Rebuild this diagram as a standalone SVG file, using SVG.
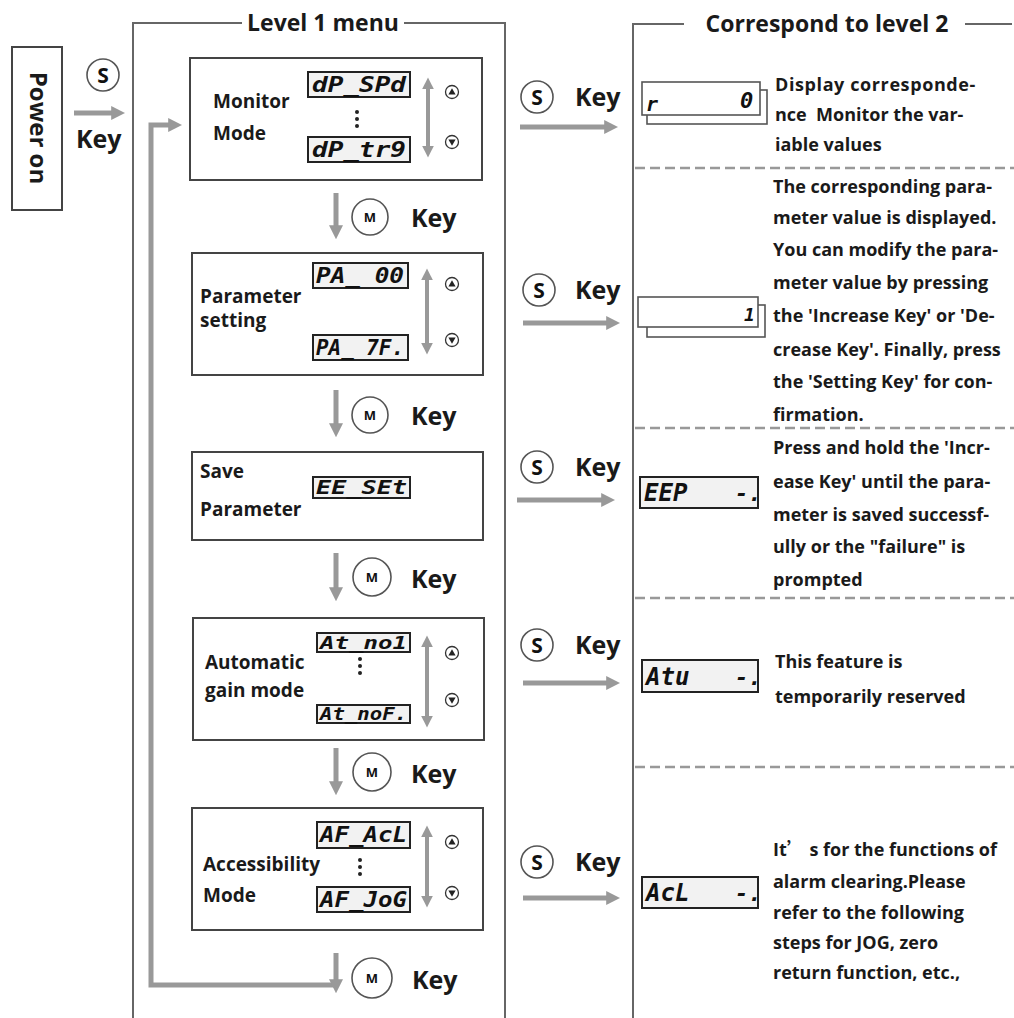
<svg xmlns="http://www.w3.org/2000/svg" width="1014" height="1018" viewBox="0 0 1014 1018">
<defs>
<style>
.t{font-family:"Open Sans","Noto Sans","Liberation Sans",sans-serif;font-weight:700;fill:#1a1a1a}
.lbl{font-size:19px}
.desc{font-size:18px;font-weight:700}
.key{font-size:25px}
.title{font-size:23px}
.frame{fill:none;stroke:#666;stroke-width:2}
.box{fill:#fff;stroke:#444;stroke-width:2}
.disp{fill:#f2f2f2;stroke:#222;stroke-width:2}
.dispw{fill:#fff;stroke:#555;stroke-width:1.6}
.seg{font-family:"DejaVu Sans Mono","Liberation Mono",monospace;font-weight:700;font-style:italic;fill:#111}
.arr{fill:none;stroke:#999;stroke-width:5}
.darr{fill:none;stroke:#999;stroke-width:4}
.dash{fill:none;stroke:#999;stroke-width:2.5;stroke-dasharray:10 5}
.kc{fill:#fff;stroke:#555;stroke-width:1.6}
.ks{font-family:"Open Sans","Liberation Sans",sans-serif;font-weight:700;font-size:21px;fill:#111}
.km{font-family:"Open Sans","Liberation Sans",sans-serif;font-weight:700;font-size:13px;fill:#111}
.ud{fill:#fff;stroke:#333;stroke-width:1.3}
.dot{fill:#222}
</style>
<marker id="ah" viewBox="0 0 10 10" refX="2" refY="5" markerWidth="14" markerHeight="14" markerUnits="userSpaceOnUse" orient="auto"><path d="M0,0 L10,5 L0,10 z" fill="#999"/></marker>
<marker id="ah2" viewBox="0 0 10 10" refX="2" refY="5" markerWidth="12" markerHeight="12" markerUnits="userSpaceOnUse" orient="auto-start-reverse"><path d="M0,0 L10,5 L0,10 z" fill="#999"/></marker>
</defs>
<rect width="1014" height="1018" fill="#fff"/>

<!-- frames -->
<g id="level1-frame">
<path class="frame" d="M133,1018 V23 H242 M404,23 H505 V1018"/>
<text class="t title" x="323" y="31" text-anchor="middle">Level 1 menu</text>
</g>
<g id="level2-frame">
<path class="frame" d="M633,1018 V24 H684 M965,24 H1012"/>
<text class="t title" x="827" y="32" text-anchor="middle" font-size="24.5">Correspond to level 2</text>
<line class="dash" x1="635" y1="168" x2="1014" y2="168"/>
<line class="dash" x1="635" y1="428" x2="1014" y2="428"/>
<line class="dash" x1="635" y1="598" x2="1014" y2="598"/>
<line class="dash" x1="635" y1="767" x2="1014" y2="767"/>
</g>

<!-- power on -->
<g id="power-on">
<rect class="box" x="12" y="47" width="50" height="163"/>
<text class="t" font-size="24" transform="translate(30,128) rotate(90)" text-anchor="middle">Power on</text>
</g>
<g id="key-s-power">
<circle class="kc" cx="103" cy="75" r="16"/>
<text class="ks" x="103" y="82.5" text-anchor="middle">S</text>
<text class="t key" x="76" y="148">Key</text>
</g>

<!-- Monitor mode -->
<g id="monitor-mode">
<rect class="box" x="190" y="58" width="292" height="122"/>
<text class="t lbl" x="213" y="108">Monitor</text>
<text class="t lbl" x="213" y="140">Mode</text>
<rect class="disp" x="308" y="72" width="102" height="25"/>
<text class="seg" x="312" y="92" font-size="22" textLength="94" lengthAdjust="spacingAndGlyphs">dP_SPd</text>
<rect class="disp" x="308" y="137" width="102" height="25"/>
<text class="seg" x="312" y="157" font-size="22" textLength="94" lengthAdjust="spacingAndGlyphs">dP_tr9</text>
<circle class="dot" cx="357" cy="112" r="2"/><circle class="dot" cx="357" cy="119" r="2"/><circle class="dot" cx="357" cy="126" r="2"/>
<circle class="ud" cx="452" cy="92" r="6.5"/><path class="dot" d="M452,88.3 L455.6,94.5 L448.4,94.5 z"/>
<circle class="ud" cx="452" cy="142" r="6.5"/><path class="dot" d="M452,145.7 L455.6,139.5 L448.4,139.5 z"/>
</g>
<g id="key-m-1">
<circle class="kc" cx="370" cy="217" r="18"/>
<text class="km" x="370" y="222" text-anchor="middle">M</text>
<text class="t key" x="411" y="227">Key</text>
</g>

<!-- Parameter setting -->
<g id="parameter-setting">
<rect class="box" x="192" y="253" width="291" height="122"/>
<text class="t lbl" x="200" y="303">Parameter</text>
<text class="t lbl" x="200" y="327">setting</text>
<rect class="disp" x="313" y="263" width="95" height="25"/>
<text class="seg" x="316" y="283" font-size="22" textLength="88" lengthAdjust="spacingAndGlyphs">PA_ 00</text>
<rect class="disp" x="313" y="335" width="95" height="25"/>
<text class="seg" x="316" y="355" font-size="22" textLength="88" lengthAdjust="spacingAndGlyphs">PA_ 7F.</text>
<circle class="ud" cx="452" cy="284" r="6.5"/><path class="dot" d="M452,280.3 L455.6,286.5 L448.4,286.5 z"/>
<circle class="ud" cx="452" cy="340" r="6.5"/><path class="dot" d="M452,343.7 L455.6,337.5 L448.4,337.5 z"/>
</g>
<g id="key-m-2">
<circle class="kc" cx="370" cy="415" r="18"/>
<text class="km" x="370" y="420" text-anchor="middle">M</text>
<text class="t key" x="411" y="425">Key</text>
</g>

<!-- Save parameter -->
<g id="save-parameter">
<rect class="box" x="192" y="452" width="291" height="88"/>
<text class="t lbl" x="200" y="478">Save</text>
<text class="t lbl" x="200" y="516">Parameter</text>
<rect class="disp" x="313" y="477" width="97" height="21"/>
<text class="seg" x="316" y="494" font-size="19" textLength="91" lengthAdjust="spacingAndGlyphs">EE_SEt</text>
</g>
<g id="key-m-3">
<circle class="kc" cx="372" cy="577" r="19"/>
<text class="km" x="372" y="582" text-anchor="middle">M</text>
<text class="t key" x="411" y="588">Key</text>
</g>

<!-- Automatic gain mode -->
<g id="automatic-gain-mode">
<rect class="box" x="193" y="618" width="291" height="122"/>
<text class="t lbl" x="205" y="669">Automatic</text>
<text class="t lbl" x="205" y="697">gain mode</text>
<rect class="disp" x="317" y="633" width="93" height="19"/>
<text class="seg" x="320" y="649" font-size="18" textLength="87" lengthAdjust="spacingAndGlyphs">At_no1</text>
<rect class="disp" x="317" y="705" width="93" height="18"/>
<text class="seg" x="320" y="720" font-size="18" textLength="87" lengthAdjust="spacingAndGlyphs">At_noF.</text>
<circle class="dot" cx="360" cy="659" r="2"/><circle class="dot" cx="360" cy="666" r="2"/><circle class="dot" cx="360" cy="673" r="2"/>
<circle class="ud" cx="452" cy="653" r="6.5"/><path class="dot" d="M452,649.3 L455.6,655.5 L448.4,655.5 z"/>
<circle class="ud" cx="452" cy="700" r="6.5"/><path class="dot" d="M452,703.7 L455.6,697.5 L448.4,697.5 z"/>
</g>
<g id="key-m-4">
<circle class="kc" cx="372" cy="772" r="19"/>
<text class="km" x="372" y="777" text-anchor="middle">M</text>
<text class="t key" x="411" y="783">Key</text>
</g>

<!-- Accessibility mode -->
<g id="accessibility-mode">
<rect class="box" x="192" y="808" width="291" height="122"/>
<text class="t lbl" x="203" y="871">Accessibility</text>
<text class="t lbl" x="203" y="902">Mode</text>
<rect class="disp" x="317" y="822" width="93" height="26"/>
<text class="seg" x="320" y="842" font-size="22" textLength="87" lengthAdjust="spacingAndGlyphs">AF_AcL</text>
<rect class="disp" x="317" y="887" width="93" height="25"/>
<text class="seg" x="320" y="907" font-size="22" textLength="87" lengthAdjust="spacingAndGlyphs">AF_JoG</text>
<circle class="dot" cx="360" cy="860" r="2"/><circle class="dot" cx="360" cy="867" r="2"/><circle class="dot" cx="360" cy="874" r="2"/>
<circle class="ud" cx="452" cy="842" r="6.5"/><path class="dot" d="M452,838.3 L455.6,844.5 L448.4,844.5 z"/>
<circle class="ud" cx="452" cy="893" r="6.5"/><path class="dot" d="M452,896.7 L455.6,890.5 L448.4,890.5 z"/>
</g>
<g id="key-m-5">
<circle class="kc" cx="372" cy="978" r="20"/>
<text class="km" x="372" y="983" text-anchor="middle">M</text>
<text class="t key" x="412" y="989">Key</text>
</g>

<!-- S keys right -->
<g id="key-s-1"><circle class="kc" cx="537" cy="97" r="16"/><text class="ks" x="537" y="104.5" text-anchor="middle">S</text><text class="t key" x="575" y="106">Key</text></g>
<g id="key-s-2"><circle class="kc" cx="539" cy="290" r="16"/><text class="ks" x="539" y="297.5" text-anchor="middle">S</text><text class="t key" x="575" y="299">Key</text></g>
<g id="key-s-3"><circle class="kc" cx="537" cy="467" r="16"/><text class="ks" x="537" y="474.5" text-anchor="middle">S</text><text class="t key" x="575" y="476">Key</text></g>
<g id="key-s-4"><circle class="kc" cx="537" cy="645" r="16"/><text class="ks" x="537" y="652.5" text-anchor="middle">S</text><text class="t key" x="575" y="654">Key</text></g>
<g id="key-s-5"><circle class="kc" cx="537" cy="862" r="16"/><text class="ks" x="537" y="869.5" text-anchor="middle">S</text><text class="t key" x="575" y="871">Key</text></g>

<!-- level 2 displays -->
<g id="display-monitor">
<rect class="dispw" x="647" y="90" width="120" height="34"/>
<rect class="dispw" x="642" y="82" width="118" height="33"/>
<text class="seg" x="646" y="111" font-size="20">r</text>
<text class="seg" x="740" y="108" font-size="22">0</text>
</g>
<g id="display-parameter">
<rect class="dispw" x="647" y="305" width="118" height="32"/>
<rect class="dispw" x="638" y="297" width="120" height="30"/>
<text class="seg" x="744" y="321" font-size="18">1</text>
</g>
<g id="display-save">
<rect class="disp" x="640" y="477" width="118" height="31"/>
<text class="seg" x="644" y="501" font-size="24">EEP</text>
<text class="seg" x="735" y="501" font-size="22">-.</text>
</g>
<g id="display-auto">
<rect class="disp" x="642" y="660" width="116" height="32"/>
<text class="seg" x="646" y="685" font-size="24">Atu</text>
<text class="seg" x="735" y="685" font-size="22">-.</text>
</g>
<g id="display-access">
<rect class="disp" x="642" y="877" width="116" height="31"/>
<text class="seg" x="646" y="901" font-size="24">AcL</text>
<text class="seg" x="735" y="901" font-size="22">-.</text>
</g>

<!-- descriptions -->
<g id="desc-monitor" class="t desc">
<text x="775" y="91" letter-spacing="0.6">Display corresponde-</text>
<text x="775" y="121">nce&#160; Monitor the var-</text>
<text x="775" y="151">iable values</text>
</g>
<g id="desc-parameter" class="t desc">
<text x="773" y="193">The corresponding para-</text>
<text x="773" y="224">meter value is displayed.</text>
<text x="773" y="256">You can modify the para-</text>
<text x="773" y="289">meter value by pressing</text>
<text x="773" y="322">the 'Increase Key' or 'De-</text>
<text x="773" y="356">crease Key'. Finally, press</text>
<text x="773" y="388">the 'Setting Key' for con-</text>
<text x="773" y="421">firmation.</text>
</g>
<g id="desc-save" class="t desc">
<text x="773" y="454">Press and hold the 'Incr-</text>
<text x="773" y="488">ease Key' until the para-</text>
<text x="773" y="521">meter is saved successf-</text>
<text x="773" y="553">ully or the "failure" is</text>
<text x="773" y="586">prompted</text>
</g>
<g id="desc-auto" class="t desc">
<text x="775" y="668">This feature is</text>
<text x="775" y="703">temporarily reserved</text>
</g>
<g id="desc-access" class="t desc">
<text x="773" y="856">It<tspan font-family="'Noto Sans CJK SC',sans-serif">’</tspan> s for the functions of</text>
<text x="773" y="888">alarm clearing.Please</text>
<text x="773" y="919">refer to the following</text>
<text x="773" y="949">steps for JOG, zero</text>
<text x="773" y="979">return function, etc.,</text>
</g>

<!-- connectors -->
<g id="connectors">
<line class="arr" x1="74" y1="113" x2="114" y2="113" marker-end="url(#ah)"/>
<path class="arr" d="M336,985 H151 V125 H171" marker-end="url(#ah)"/>
<line class="arr" x1="336" y1="193" x2="336" y2="228" marker-end="url(#ah)"/>
<line class="arr" x1="336" y1="390" x2="336" y2="426" marker-end="url(#ah)"/>
<line class="arr" x1="336" y1="553" x2="336" y2="590" marker-end="url(#ah)"/>
<line class="arr" x1="336" y1="748" x2="336" y2="784" marker-end="url(#ah)"/>
<line class="arr" x1="336" y1="953" x2="336" y2="982" marker-end="url(#ah)"/>
<line class="arr" x1="520" y1="127" x2="607" y2="127" marker-end="url(#ah)"/>
<line class="arr" x1="523" y1="323" x2="609" y2="323" marker-end="url(#ah)"/>
<line class="arr" x1="517" y1="500" x2="604" y2="500" marker-end="url(#ah)"/>
<line class="arr" x1="523" y1="683" x2="609" y2="683" marker-end="url(#ah)"/>
<line class="arr" x1="523" y1="898" x2="609" y2="898" marker-end="url(#ah)"/>
<line class="darr" x1="428" y1="87" x2="428" y2="148" marker-start="url(#ah2)" marker-end="url(#ah2)"/>
<line class="darr" x1="427" y1="278" x2="427" y2="345" marker-start="url(#ah2)" marker-end="url(#ah2)"/>
<line class="darr" x1="427" y1="645" x2="427" y2="718" marker-start="url(#ah2)" marker-end="url(#ah2)"/>
<line class="darr" x1="427" y1="835" x2="427" y2="898" marker-start="url(#ah2)" marker-end="url(#ah2)"/>
</g>
</svg>
